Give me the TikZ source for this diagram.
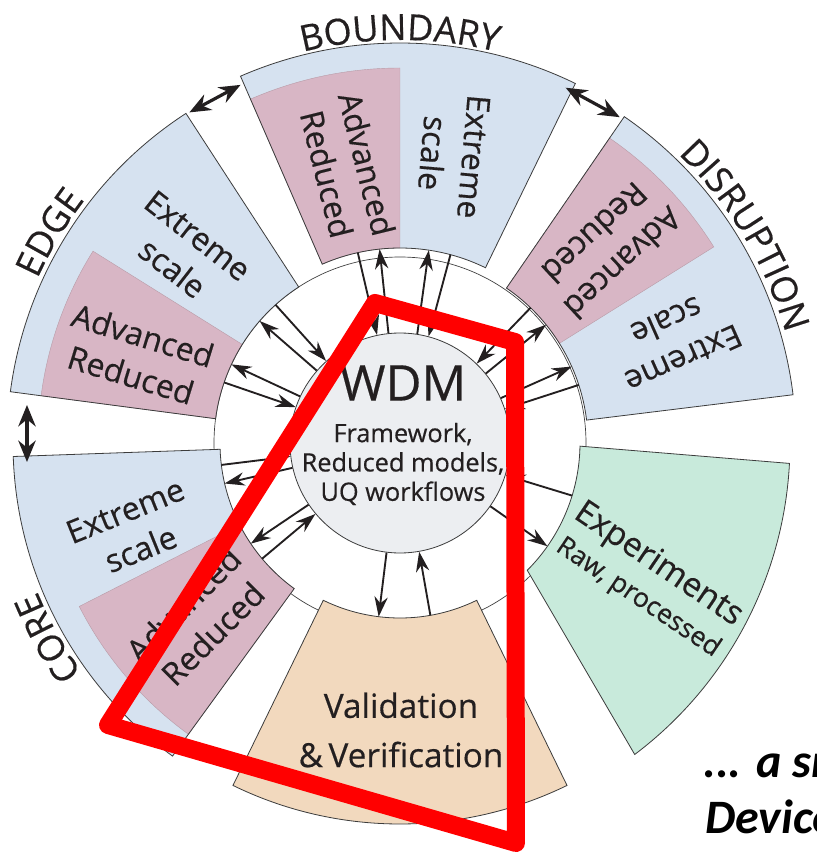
\documentclass[tikz,border=0pt]{standalone}
\usepackage{fontspec}
\setmainfont{Open Sans}[FakeBold=0.4]
\newfontfamily\notefont{Carlito}
\usepackage{tikz}
\usetikzlibrary{arrows.meta,decorations.text}

\definecolor{scaleblue}{HTML}{D6E2F0}
\definecolor{redpink}{HTML}{D8B6C5}
\definecolor{expgreen}{HTML}{C8EADB}
\definecolor{vvpeach}{HTML}{F2D9BE}
\definecolor{wdmgrey}{HTML}{ECEEF1}
\definecolor{inkline}{HTML}{3C3C3C}
\definecolor{ink}{HTML}{231F20}
\definecolor{markred}{HTML}{FF0000}

\newcommand{\ringpart}[4]{(#1:#3) arc (#1:#2:#3) -- (#2:#4) arc (#2:#1:#4) -- cycle}

\tikzset{
  wedge/.style={draw=inkline, line width=0.6pt},
  reduced/.style={fill=redpink, draw=redpink!85!black, line width=0.3pt},
  link/.style={ink, line width=1.4pt, -{Stealth[length=15pt,width=10pt]}},
  twoway/.style={ink, line width=2.4pt, {Stealth[length=16pt,width=13pt]}-{Stealth[length=16pt,width=13pt]}},
  boxtext/.style={ink, font=\fontsize{24}{31}\selectfont, align=center, inner sep=0pt},
  rimlabel/.style={decorate, decoration={text along path, text align=center, text color=ink, text={|\fontsize{27}{27}\selectfont|#1}}}
}

\begin{document}
\begin{tikzpicture}[x=0.75pt, y=0.75pt]
\clip (-400,-414) rectangle (417,443);
\fill [white] (-400,-414) rectangle (417,443);

\draw [inkline, line width=0.5pt] (0,0) circle (186);

% boundary
\fill [scaleblue] \ringpart{64}{113.5}{195}{400};
\fill [reduced] \ringpart{90}{113.5}{195}{375};
\draw [wedge] \ringpart{64}{113.5}{195}{400};
% disruption
\fill [scaleblue] \ringpart{7}{55.5}{188}{396};
\fill [reduced] \ringpart{32}{55.5}{188}{370};
\draw [wedge] \ringpart{7}{55.5}{188}{396};
% edge
\fill [scaleblue] \ringpart{123}{172.5}{186}{393};
\fill [reduced] \ringpart{148}{172.5}{186}{362};
\draw [wedge] \ringpart{123}{172.5}{186}{393};
% core
\fill [scaleblue] \ringpart{182}{234}{180}{387};
\fill [reduced] \ringpart{207}{234}{180}{360};
\draw [wedge] \ringpart{182}{234}{180}{387};
% validation, experiments
\draw [wedge, fill=vvpeach] \ringpart{244}{296}{175}{381};
\draw [wedge, fill=expgreen] (-1:180) arc (-1:-45:180) -- (-53:390) arc (-53:-3:390) -- cycle;

\node [circle, draw=inkline, fill=wdmgrey, line width=0.6pt, minimum size=165pt, inner sep=0pt] (wdm) at (0,0) {};

\foreach \a/\r in {81.5/195, 96/195, 24/188, 39/188, 139/186, 155/186, 193/180, 214/180, 325/180, 263/175}
  \draw [link] (wdm.\a) -- (\a:\r);
\foreach \a/\r in {75/195, 102.5/195, 18/188, 46/188, 132/186, 161/186, 187/180, 220/180, 343/180, 280/175}
  \draw [link] (\a:\r) -- (wdm.\a);

\node [ink, font=\fontsize{37}{37}\selectfont, inner sep=0pt] (wdm-title) at (3,60) {WDM};
\node [ink, font=\fontsize{19}{22}\selectfont, align=center, inner sep=0pt] (wdm-text) at (3,-21) {Framework,\\Reduced models,\\UQ workflows};

\node [boxtext, rotate=-76] (bnd-adv) at (-53,274) {Advanced\\Reduced};
\node [boxtext, rotate=-95] (bnd-ext) at (53,288) {Extreme\\scale};
\node [boxtext, rotate=-137] (dis-adv) at (209,195) {Advanced\\Reduced};
\node [boxtext, rotate=-156] (dis-ext) at (275,103) {Extreme\\scale};
\node [boxtext, rotate=-38] (edg-ext) at (-215,191) {Extreme\\scale};
\node [boxtext, rotate=-17] (edg-adv) at (-263,88) {Advanced\\Reduced};
\node [boxtext, rotate=22] (cor-ext) at (-267,-87) {Extreme\\scale};
\node [boxtext, rotate=45] (cor-adv) at (-202,-176) {Advanced\\Reduced};
\node [boxtext, font=\fontsize{25}{25}\selectfont, rotate=-34] (exp-title) at (258,-122) {Experiments};
\node [boxtext, font=\fontsize{20}{20}\selectfont, rotate=-34] (exp-text) at (238,-155) {Raw, processed};
\node [boxtext, font=\fontsize{25}{37}\selectfont] (vv-text) at (1,-287) {Validation\\\&\,Verification};

\path [rimlabel=BOUNDARY] (125:403) arc (125:55:403);
\path [rimlabel=DISRUPTION] (60:401) arc (60:2:401);
\path [rimlabel=EDGE] (175:398) arc (175:123:398);
\path [rimlabel=CORE] (232:392) arc (232:186:392);

\coordinate (bnd-w) at (114:392);
\coordinate (edg-n) at (122.5:392);
\coordinate (bnd-e) at (65:392);
\coordinate (dis-n) at (56:393);
\coordinate (edg-s) at (-373,38);
\coordinate (cor-n) at (-373,-19);
\draw [twoway] (bnd-w) -- (edg-n);
\draw [twoway] (bnd-e) -- (dis-n);
\draw [twoway] (edg-s) -- (cor-n);

\draw [markred, line width=13.5pt, line join=round] (-25,140) -- (115,101) -- (116,-400) -- (-292,-282) -- cycle;

\node [anchor=base west, inner sep=0pt, font=\notefont\bfseries\itshape\fontsize{36}{36}\selectfont] (note-a) at (303,-334) {... a sm};
\node [anchor=base west, inner sep=0pt, font=\notefont\bfseries\itshape\fontsize{36}{36}\selectfont] (note-b) at (305,-390) {Device};
\end{tikzpicture}
\end{document}
